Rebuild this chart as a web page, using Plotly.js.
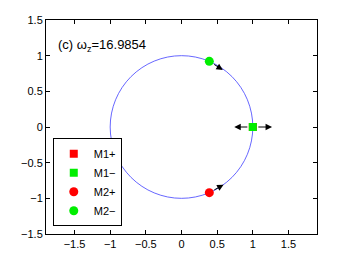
<!DOCTYPE html>
<html><head><meta charset="utf-8">
<script src="https://cdn.plot.ly/plotly-3.0.1.min.js"></script>
<style>html,body{margin:0;padding:0;background:#fff;}#chart{width:350px;height:264px;}</style>
</head><body><div id="chart"></div>
<script>
// Data
const seriesNames = ["M1+", "M1−", "M2+", "M2−"];
const seriesX = [[1.0], [1.0], [0.39], [0.39]];
const seriesY = [[0.0], [0.0], [-0.92], [0.92]];
const seriesColors = ["#ff0000", "#00ee00", "#ff0000", "#00ee00"];
const seriesSymbols = ["square", "square", "circle", "circle"];
// Arrow tails (start) and tips (end)
const arrowStartX = [0.39, 0.39, 1.0, 1.0];
const arrowStartY = [0.92, -0.92, 0.0, 0.0];
const arrowEndX = [0.58, 0.59, 0.74, 1.27];
const arrowEndY = [0.80, -0.81, 0.0, 0.0];
// Unit circle (center and radius)
const circleCenter = [0, 0];
const circleRadius = [1];
const xTicks = [-1.5, -1, -0.5, 0, 0.5, 1, 1.5];
const yTicks = [-1.5, -1, -0.5, 0, 0.5, 1, 1.5];
const labelText = "(c) ω<sub>z</sub>=16.9854";

const traces = seriesNames.map((n, i) => ({
  type: "scatter", mode: "markers", name: n,
  x: seriesX[i], y: seriesY[i],
  marker: {color: seriesColors[i], symbol: seriesSymbols[i], size: seriesSymbols[i] === "circle" ? 9 : 8, line: {width: 0}}
}));

const annotations = arrowStartX.map((sx, i) => ({
  x: arrowEndX[i], y: arrowEndY[i], xref: "x", yref: "y",
  ax: sx, ay: arrowStartY[i], axref: "x", ayref: "y",
  showarrow: true, arrowhead: 2, arrowsize: 1.3, arrowwidth: 1, arrowcolor: "#000", text: "",
  standoff: 0, startstandoff: 4
}));
annotations.push({
  x: -1.76, y: 1.14, xref: "x", yref: "y", xanchor: "left", yanchor: "middle",
  text: labelText, showarrow: false, font: {family: "Liberation Sans, Arial, sans-serif", size: 13, color: "#000"}
});

const axisCommon = {
  showgrid: false, zeroline: false, showline: true, linecolor: "#000", linewidth: 1,
  mirror: "allticks", ticks: "inside", ticklen: 4, tickwidth: 1, tickcolor: "#000",
  tickfont: {family: "Liberation Sans, Arial, sans-serif", size: 11, color: "#000"}
};

const layout = {
  width: 350, height: 264,
  margin: {l: 46, r: 33, t: 20, b: 30},
  paper_bgcolor: "#fff", plot_bgcolor: "#fff",
  xaxis: Object.assign({}, axisCommon, {range: [-1.9, 1.9], tickvals: xTicks, ticktext: xTicks.map(v => (v < 0 ? "−" : "") + Math.abs(v))}),
  yaxis: Object.assign({}, axisCommon, {range: [-1.5, 1.5], tickvals: yTicks, ticktext: yTicks.map(v => (v < 0 ? "−" : "") + Math.abs(v))}),
  shapes: [{
    type: "circle", xref: "x", yref: "y", layer: "below",
    x0: circleCenter[0] - circleRadius[0], x1: circleCenter[0] + circleRadius[0],
    y0: circleCenter[1] - circleRadius[0], y1: circleCenter[1] + circleRadius[0],
    line: {color: "#4040ff", width: 0.8}
  }],
  annotations: annotations,
  showlegend: true,
  legend: {
    x: 0.025, y: 0.036, xanchor: "left", yanchor: "bottom",
    bgcolor: "#fff", bordercolor: "#000", borderwidth: 1,
    font: {family: "Liberation Sans, Arial, sans-serif", size: 11, color: "#000"},
    tracegroupgap: 0, itemwidth: 30
  }
};

Plotly.newPlot("chart", traces, layout, {displayModeBar: false, staticPlot: true});
</script>
</body></html>
